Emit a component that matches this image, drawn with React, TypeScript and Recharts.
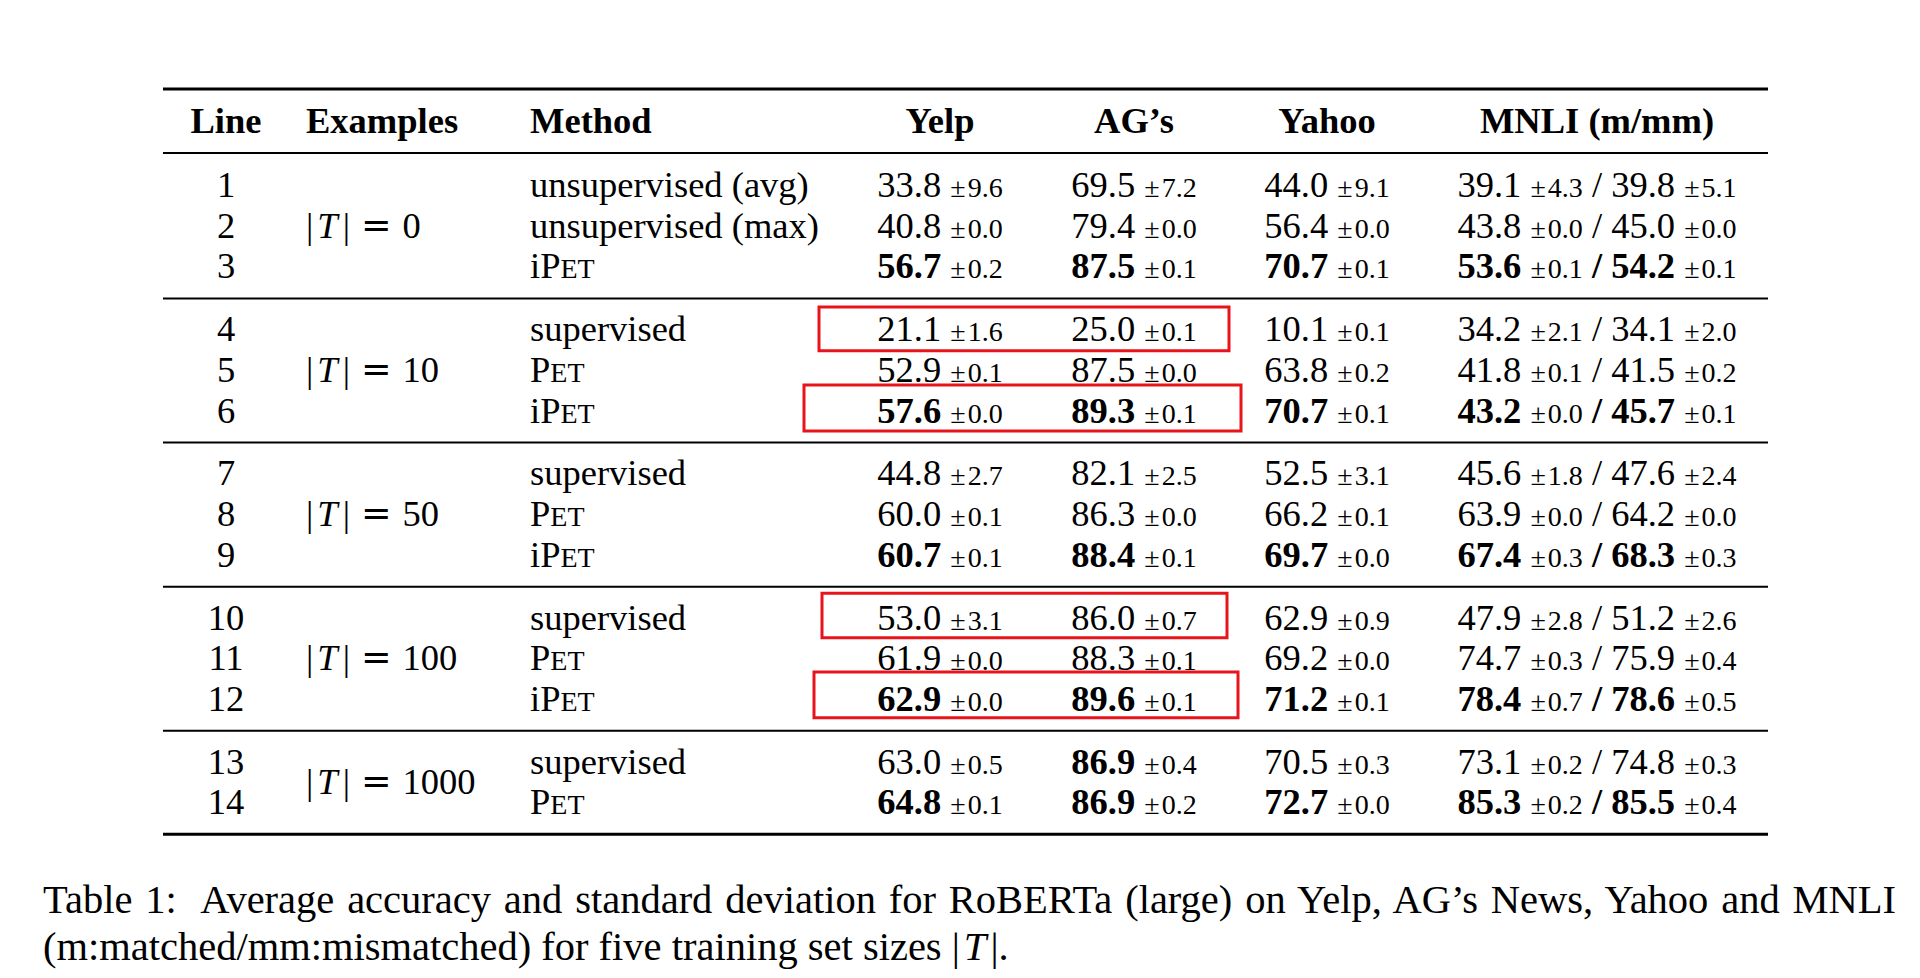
import React from 'react';
import { ScatterChart, Scatter, XAxis, YAxis, ReferenceLine, ReferenceArea } from 'recharts';

// ---------------- data ----------------
const columnHeaders = ['Line', 'Examples', 'Method', 'Yelp', 'AG\u2019s', 'Yahoo', 'MNLI (m/mm)'];
const lineNumbers = [1, 2, 3, 4, 5, 6, 7, 8, 9, 10, 11, 12, 13, 14];
const exampleSizes = [0, 10, 50, 100, 1000];
const groupRowCounts = [3, 3, 3, 3, 2];
const methods = [
  'unsupervised (avg)', 'unsupervised (max)', 'iPET',
  'supervised', 'PET', 'iPET',
  'supervised', 'PET', 'iPET',
  'supervised', 'PET', 'iPET',
  'supervised', 'PET',
];
const yelpMean = [33.8, 40.8, 56.7, 21.1, 52.9, 57.6, 44.8, 60.0, 60.7, 53.0, 61.9, 62.9, 63.0, 64.8];
const yelpStd = [9.6, 0.0, 0.2, 1.6, 0.1, 0.0, 2.7, 0.1, 0.1, 3.1, 0.0, 0.0, 0.5, 0.1];
const agMean = [69.5, 79.4, 87.5, 25.0, 87.5, 89.3, 82.1, 86.3, 88.4, 86.0, 88.3, 89.6, 86.9, 86.9];
const agStd = [7.2, 0.0, 0.1, 0.1, 0.0, 0.1, 2.5, 0.0, 0.1, 0.7, 0.1, 0.1, 0.4, 0.2];
const yahooMean = [44.0, 56.4, 70.7, 10.1, 63.8, 70.7, 52.5, 66.2, 69.7, 62.9, 69.2, 71.2, 70.5, 72.7];
const yahooStd = [9.1, 0.0, 0.1, 0.1, 0.2, 0.1, 3.1, 0.1, 0.0, 0.9, 0.0, 0.1, 0.3, 0.0];
const mnliMatchedMean = [39.1, 43.8, 53.6, 34.2, 41.8, 43.2, 45.6, 63.9, 67.4, 47.9, 74.7, 78.4, 73.1, 85.3];
const mnliMatchedStd = [4.3, 0.0, 0.1, 2.1, 0.1, 0.0, 1.8, 0.0, 0.3, 2.8, 0.3, 0.7, 0.2, 0.2];
const mnliMismatchedMean = [39.8, 45.0, 54.2, 34.1, 41.5, 45.7, 47.6, 64.2, 68.3, 51.2, 75.9, 78.6, 74.8, 85.5];
const mnliMismatchedStd = [5.1, 0.0, 0.1, 2.0, 0.2, 0.1, 2.4, 0.0, 0.3, 2.6, 0.4, 0.5, 0.3, 0.4];
const highlightedLines = [4, 6, 10, 12];
const captionLine1 = 'Table 1:\u00A0 Average accuracy and standard deviation for RoBERTa (large) on Yelp, AG\u2019s News, Yahoo and MNLI';
const captionLine2 = '(m:matched/mm:mismatched) for five training set sizes ';

// ---------------- layout / style ----------------
const W = 1920;
const H = 978;
const FONT = '"Liberation Serif", "Times New Roman", Times, serif';
const FS = 36.5;
const FS_SMALL = 28;
const FS_SC = 28;
const HEADER_PX = 121;
const ROW_PX = 40.6;
const Y_MIN = -HEADER_PX / ROW_PX;
const Y_MAX = (H - HEADER_PX) / ROW_PX;
const FIRST_ROW_OFFSET = 0.58;
const GROUP_GAP = 0.55;
const RULE_GAP = 0.79;
const COL_X = [226, 306, 530, 940, 1134, 1327, 1597];
const COL_ANCHOR = ['middle', 'start', 'start', 'middle', 'middle', 'middle', 'middle'];
const TABLE_X1 = 163;
const TABLE_X2 = 1768;
const RED = '#e8141c';
const BOX_STYLE = [
  { x1: 819, x2: 1229, up: 0.55, down: 0.53 },
  { x1: 804, x2: 1241, up: 0.63, down: 0.505 },
  { x1: 822, x2: 1227, up: 0.6, down: 0.5 },
  { x1: 814, x2: 1238, up: 0.66, down: 0.47 },
];

// ---------------- derived structure ----------------
const rowGroup: number[] = [];
groupRowCounts.forEach((n, g) => { for (let i = 0; i < n; i++) rowGroup.push(g); });
const rowY = lineNumbers.map((_, i) => i + 1 + FIRST_ROW_OFFSET + GROUP_GAP * rowGroup[i]);
const groupFirst = groupRowCounts.map((_, g) => rowGroup.indexOf(g));
const groupLast = groupRowCounts.map((_, g) => rowGroup.lastIndexOf(g));

const isBest = (arr: number[], i: number) => {
  const g = rowGroup[i];
  let m = -Infinity;
  for (let k = groupFirst[g]; k <= groupLast[g]; k++) m = Math.max(m, arr[k]);
  return arr[i] === m;
};

type Cell = {
  x: number; y: number; kind: string; anchor: string;
  text?: string; n?: number;
  mean?: number; std?: number; bold?: boolean;
  mean2?: number; std2?: number; bold2?: boolean;
};

const cells: Cell[] = [];
columnHeaders.forEach((h, c) => cells.push({ x: COL_X[c], y: 0, kind: 'header', anchor: COL_ANCHOR[c], text: h }));
lineNumbers.forEach((ln, i) => {
  const y = rowY[i];
  cells.push({ x: COL_X[0], y, kind: 'plain', anchor: COL_ANCHOR[0], text: String(ln) });
  cells.push({ x: COL_X[2], y, kind: 'method', anchor: COL_ANCHOR[2], text: methods[i] });
  const cols: [number[], number[], number][] = [[yelpMean, yelpStd, 3], [agMean, agStd, 4], [yahooMean, yahooStd, 5]];
  cols.forEach(([m, s, c]) => cells.push({ x: COL_X[c], y, kind: 'score', anchor: 'middle', mean: m[i], std: s[i], bold: isBest(m, i) }));
  cells.push({
    x: COL_X[6], y, kind: 'mnli', anchor: 'middle',
    mean: mnliMatchedMean[i], std: mnliMatchedStd[i], bold: isBest(mnliMatchedMean, i),
    mean2: mnliMismatchedMean[i], std2: mnliMismatchedStd[i], bold2: isBest(mnliMismatchedMean, i),
  });
});
exampleSizes.forEach((n, g) => {
  cells.push({ x: COL_X[1], y: (rowY[groupFirst[g]] + rowY[groupLast[g]]) / 2, kind: 'group', anchor: 'start', n });
});

const ruleYs = [
  { y: -RULE_GAP, w: 3 },
  { y: RULE_GAP, w: 2 },
  ...groupRowCounts.map((_, g) => ({ y: rowY[groupLast[g]] + RULE_GAP, w: g === groupRowCounts.length - 1 ? 3 : 2 })),
];

const boxes = highlightedLines.map((ln, k) => {
  const y = rowY[lineNumbers.indexOf(ln)];
  const st = BOX_STYLE[k];
  return { x1: st.x1, x2: st.x2, y1: y - st.up, y2: y + st.down };
});

// ---------------- rendering ----------------
const renderMethod = (t: string) => {
  const idx = t.indexOf('PET');
  if (idx < 0) return t;
  return (
    <>
      {t.slice(0, idx)}P<tspan fontSize={FS_SC}>ET</tspan>{t.slice(idx + 3)}
    </>
  );
};

const scoreSpans = (mean: number, std: number, bold: boolean) => (
  <>
    <tspan fontWeight={bold ? 'bold' : 'normal'}>{mean.toFixed(1)}</tspan>
    <tspan fontWeight="normal">{'\u00A0'}</tspan>
    <tspan fontSize={FS_SMALL} fontWeight="normal">{'\u00B1'}</tspan>
    <tspan fontSize={FS_SMALL} fontWeight="normal" dx={2}>{std.toFixed(1)}</tspan>
  </>
);

const CellShape = (props: any) => {
  const { cx, cy, payload } = props;
  if (cx == null || cy == null || !payload) return null;
  const p = payload as Cell;
  const base = cy + FS * 0.33;
  const common = { x: cx, y: base, fontFamily: FONT, fontSize: FS, fill: '#000', textAnchor: p.anchor as any };
  if (p.kind === 'header') return <text {...common} fontWeight="bold">{p.text}</text>;
  if (p.kind === 'plain') return <text {...common}>{p.text}</text>;
  if (p.kind === 'method') return <text {...common}>{renderMethod(p.text || '')}</text>;
  if (p.kind === 'score') return <text {...common}>{scoreSpans(p.mean!, p.std!, !!p.bold)}</text>;
  if (p.kind === 'mnli') {
    return (
      <text {...common}>
        {scoreSpans(p.mean!, p.std!, !!p.bold)}
        <tspan fontWeight={p.bold && p.bold2 ? 'bold' : 'normal'}>{'\u00A0/\u00A0'}</tspan>
        {scoreSpans(p.mean2!, p.std2!, !!p.bold2)}
      </text>
    );
  }
  if (p.kind === 'group') {
    return (
      <text {...common}>
        <tspan>|</tspan>
        <tspan dx={4} fontStyle="italic">T</tspan>
        <tspan dx={5}>|</tspan>
        <tspan dx={11} fontFamily='"DejaVu Serif", serif'>=</tspan>
        <tspan dx={11}>{p.n}</tspan>
      </text>
    );
  }
  return null;
};

export default function App() {
  return (
    <div style={{ position: 'absolute', left: 0, top: 0, width: W, height: H, background: '#fff' }}>
      <ScatterChart width={W} height={H} margin={{ top: 0, right: 0, bottom: 0, left: 0 }}>
        <XAxis type="number" dataKey="x" domain={[0, W]} hide allowDataOverflow />
        <YAxis type="number" dataKey="y" domain={[Y_MIN, Y_MAX]} reversed hide allowDataOverflow width={0} />
        {ruleYs.map((r, i) => (
          <ReferenceLine
            key={'rule' + i}
            segment={[{ x: TABLE_X1, y: r.y }, { x: TABLE_X2, y: r.y }]}
            stroke="#000"
            strokeWidth={r.w}
            ifOverflow="visible"
          />
        ))}
        {boxes.map((b, i) => (
          <ReferenceArea
            key={'box' + i}
            x1={b.x1}
            x2={b.x2}
            y1={b.y1}
            y2={b.y2}
            fill="none"
            fillOpacity={0}
            stroke={RED}
            strokeWidth={3}
            strokeOpacity={1}
            ifOverflow="visible"
          />
        ))}
        <Scatter data={cells} shape={CellShape} isAnimationActive={false} />
      </ScatterChart>
      <div
        style={{
          position: 'absolute', left: 43, top: 877, width: 1853,
          fontFamily: FONT, fontSize: 40.5, lineHeight: '46.5px', color: '#000',
          textAlign: 'justify', textAlignLast: 'justify', whiteSpace: 'nowrap' as any,
        }}
      >
        {captionLine1}
      </div>
      <div
        style={{
          position: 'absolute', left: 43, top: 923.5, width: 1853,
          fontFamily: FONT, fontSize: 40.5, lineHeight: '46.5px', color: '#000', textAlign: 'left',
        }}
      >
        {captionLine2}|<span style={{ fontStyle: 'italic', margin: '0 4px' }}>T</span>|.
      </div>
    </div>
  );
}
